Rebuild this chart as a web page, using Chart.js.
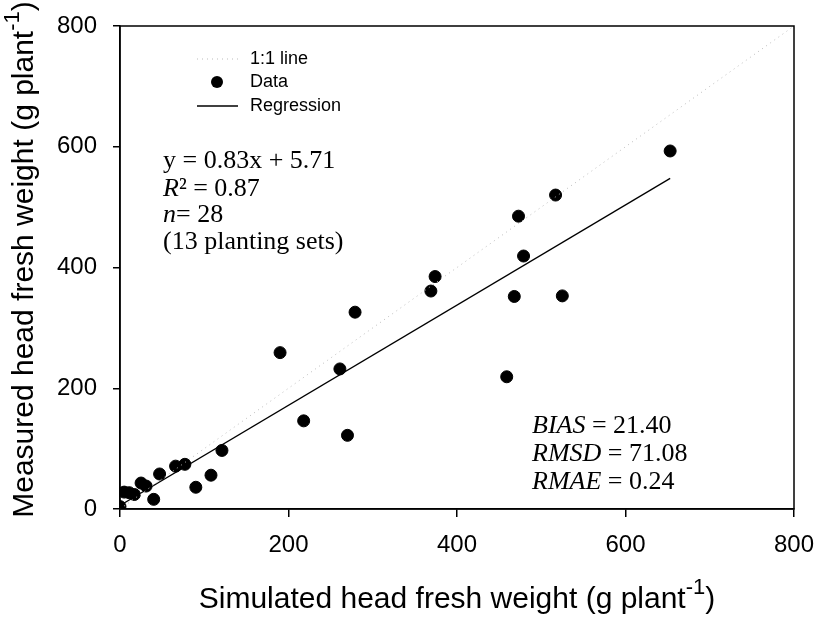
<!DOCTYPE html>
<html>
<head>
<meta charset="utf-8">
<script src="https://cdn.jsdelivr.net/npm/chart.js@4.4.0/dist/chart.umd.min.js"></script>
<style>
  html, body { margin: 0; padding: 0; background: #fff; }
  #wrap { width: 816px; height: 623px; }
</style>
</head>
<body>
<div id="wrap"><canvas id="chart" width="816" height="623"></canvas></div>
<script>
// simulated (x) vs measured (y) head fresh weight, g plant-1
var simulated = [0, 5, 11, 17, 25, 31, 40, 47, 66, 77, 90, 108, 121, 190, 218, 261, 270, 279, 369, 374, 459, 468, 473, 479, 517, 525, 653];
var measured  = [4, 28, 27, 24, 43, 38, 16, 58, 71, 74, 36, 56, 97, 259, 146, 232, 122, 326, 361, 385, 219, 352, 485, 419, 520, 353, 593];

var axisTicks = [0, 200, 400, 600, 800];
var regSlope = 0.83, regIntercept = 5.71;
var fitText = ['y = 0.83x + 5.71', 'R² = 0.87', 'n= 28', '(13 planting sets)'];
var statNames = ['BIAS', 'RMSD', 'RMAE'];
var statValues = ['21.40', '71.08', '0.24'];
var legendLabels = ['1:1 line', 'Data', 'Regression'];

var sans = "'Liberation Sans', Arial, sans-serif";
var serif = "'Liberation Serif', 'Times New Roman', serif";

var points = simulated.map(function (x, i) { return { x: x, y: measured[i] }; });
var xMin = Math.min.apply(null, simulated), xMax = Math.max.apply(null, simulated);
var regLine = [
    { x: xMin, y: regSlope * xMin + regIntercept },
    { x: xMax, y: regSlope * xMax + regIntercept }
];
var oneToOne = [{ x: 0, y: 0 }, { x: 800, y: 800 }];

// draws frame, axis titles (with superscript), legend and stats text
var extras = {
    id: 'extras',
    afterDraw: function (chart) {
        var ctx = chart.ctx, a = chart.chartArea;
        ctx.save();
        ctx.strokeStyle = '#000';
        ctx.lineWidth = 1.5;
        ctx.strokeRect(a.left, a.top, a.right - a.left, a.bottom - a.top);

        function supTitle(main, sup, tail, size) {
            var small = Math.round(size * 0.72);
            ctx.font = size + 'px ' + sans;
            var w1 = ctx.measureText(main).width;
            ctx.font = small + 'px ' + sans;
            var w2 = ctx.measureText(sup).width;
            ctx.font = size + 'px ' + sans;
            var w3 = ctx.measureText(tail).width;
            var x0 = -(w1 + w2 + w3) / 2;
            ctx.textBaseline = 'middle';
            ctx.textAlign = 'left';
            ctx.fillText(main, x0, 0);
            ctx.font = small + 'px ' + sans;
            ctx.fillText(sup, x0 + w1, -size * 0.4);
            ctx.font = size + 'px ' + sans;
            ctx.fillText(tail, x0 + w1 + w2, 0);
        }
        ctx.fillStyle = '#000';
        ctx.save();
        ctx.translate((a.left + a.right) / 2, 600);
        supTitle('Simulated head fresh weight (g plant', '-1', ')', 30);
        ctx.restore();
        ctx.save();
        ctx.translate(25, (a.top + a.bottom) / 2 - 8);
        ctx.rotate(-Math.PI / 2);
        supTitle('Measured head fresh weight (g plant', '-1', ')', 30);
        ctx.restore();

        // legend
        ctx.font = '18px ' + sans;
        ctx.textBaseline = 'middle';
        ctx.textAlign = 'left';
        var ly = [59, 82, 106];
        ctx.strokeStyle = '#bbb';
        ctx.lineWidth = 1;
        ctx.setLineDash([1, 4]);
        ctx.beginPath(); ctx.moveTo(197, ly[0]); ctx.lineTo(238, ly[0]); ctx.stroke();
        ctx.setLineDash([]);
        ctx.beginPath(); ctx.arc(217, ly[1], 6, 0, Math.PI * 2); ctx.fill();
        ctx.strokeStyle = '#000';
        ctx.lineWidth = 1.3;
        ctx.beginPath(); ctx.moveTo(197, ly[2]); ctx.lineTo(238, ly[2]); ctx.stroke();
        legendLabels.forEach(function (t, i) { ctx.fillText(t, 250, ly[i]); });

        // regression text
        var fs = 26, lx = 163;
        ctx.font = fs + 'px ' + serif;
        var fy = [161, 189, 215, 242];
        ctx.fillText(fitText[0], lx, fy[0]);
        ctx.font = 'italic ' + fs + 'px ' + serif;
        ctx.fillText('R', lx, fy[1]);
        var rw = ctx.measureText('R').width;
        ctx.font = fs + 'px ' + serif;
        ctx.fillText(fitText[1].slice(1), lx + rw, fy[1]);
        ctx.font = 'italic ' + fs + 'px ' + serif;
        ctx.fillText('n', lx, fy[2]);
        var nw = ctx.measureText('n').width;
        ctx.font = fs + 'px ' + serif;
        ctx.fillText(fitText[2].slice(1), lx + nw, fy[2]);
        ctx.fillText(fitText[3], lx, fy[3]);

        // stats text
        var sy = [426, 454, 482];
        statNames.forEach(function (nm, i) {
            ctx.font = 'italic ' + fs + 'px ' + serif;
            ctx.fillText(nm, 532, sy[i]);
            var w = ctx.measureText(nm).width;
            ctx.font = fs + 'px ' + serif;
            ctx.fillText(' = ' + statValues[i], 532 + w, sy[i]);
        });
        ctx.restore();
    }
};

new Chart(document.getElementById('chart'), {
    type: 'scatter',
    data: {
        datasets: [{
            label: legendLabels[0],
            type: 'line',
            data: oneToOne,
            borderColor: '#bbb',
            borderWidth: 1,
            borderDash: [1, 4],
            pointRadius: 0,
            fill: false
        }, {
            label: legendLabels[1],
            data: points,
            backgroundColor: '#000',
            borderColor: '#000',
            pointRadius: 6,
            pointHoverRadius: 6
        }, {
            label: legendLabels[2],
            type: 'line',
            data: regLine,
            borderColor: '#000',
            borderWidth: 1.3,
            pointRadius: 0,
            fill: false
        }]
    },
    options: {
        responsive: false,
        animation: false,
        devicePixelRatio: 1,
        layout: { padding: { top: 26, right: 22, left: 0, bottom: 0 } },
        plugins: { legend: { display: false }, tooltip: { enabled: false } },
        scales: {
            x: {
                type: 'linear', min: 0, max: 800,
                afterBuildTicks: function (s) { s.ticks = axisTicks.map(function (v) { return { value: v }; }); },
                afterFit: function (s) { s.height = 623 - 509; s.paddingLeft = 0; s.paddingRight = 0; },
                grid: { drawOnChartArea: false, drawTicks: true, tickLength: 8, color: '#000', lineWidth: 1.5 },
                border: { color: '#000', width: 1.5 },
                ticks: { color: '#000', padding: 14, font: { family: sans, size: 24 } }
            },
            y: {
                type: 'linear', min: 0, max: 800,
                afterBuildTicks: function (s) { s.ticks = axisTicks.map(function (v) { return { value: v }; }); },
                afterFit: function (s) { s.width = 120; s.paddingTop = 0; s.paddingBottom = 0; },
                grid: { drawOnChartArea: false, drawTicks: true, tickLength: 7, color: '#000', lineWidth: 1.5 },
                border: { color: '#000', width: 1.5 },
                ticks: { color: '#000', padding: 16, font: { family: sans, size: 24 } }
            }
        }
    },
    plugins: [extras]
});
</script>
</body>
</html>
